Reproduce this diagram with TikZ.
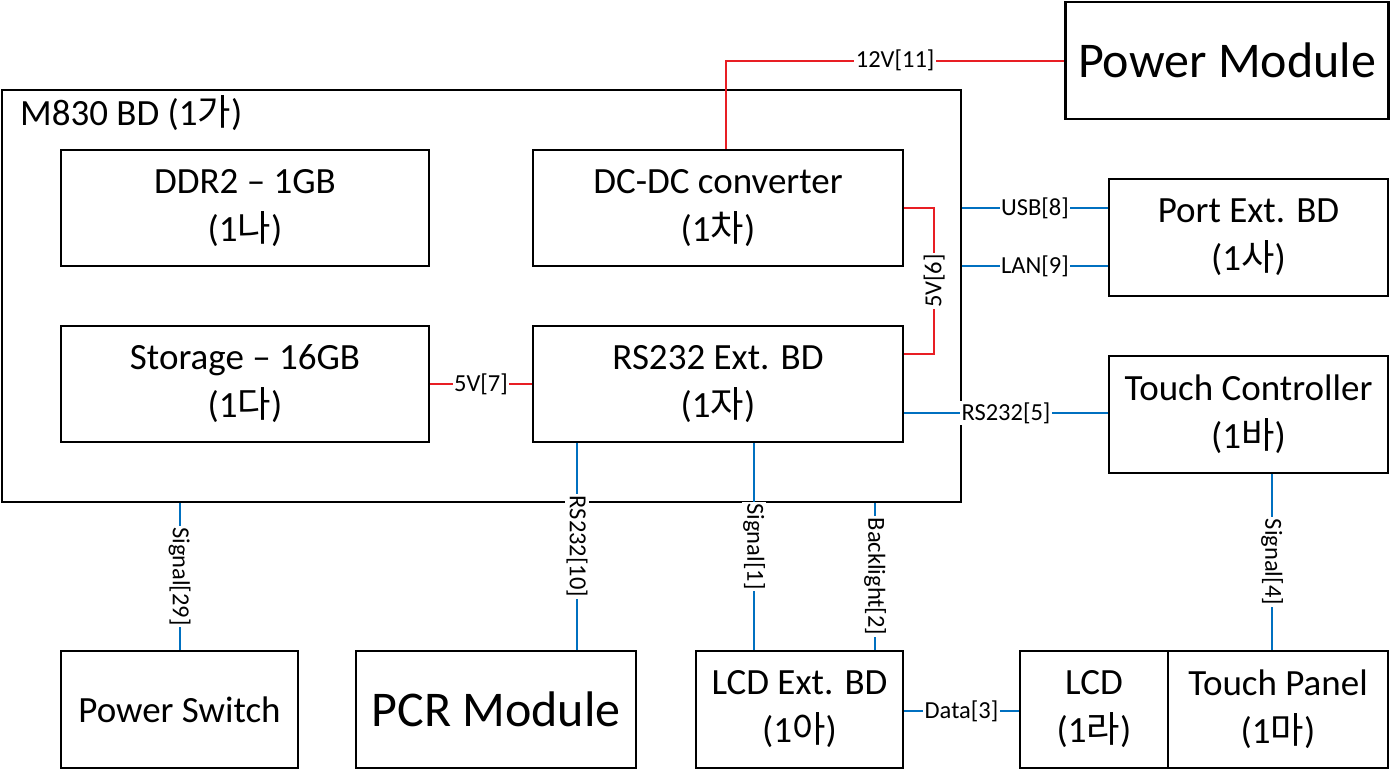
\documentclass[tikz,border=0pt]{standalone}
\usepackage{fontspec}
\setmainfont{Carlito}
\newfontfamily\hangulfont[Scale=0.98]{Noto Sans CJK KR}
\newcommand{\hg}[1]{{\hangulfont #1}}
\definecolor{pwrred}{RGB}{232,30,36}
\definecolor{sigblue}{RGB}{0,112,192}
\begin{document}
\begin{tikzpicture}[x=1pt,y=-1pt,
  box/.style={draw=black, line width=2.4pt, rectangle, inner sep=0pt, align=center,
    font=\fontsize{37}{48}\selectfont},
  pwrl/.style={draw=pwrred, line width=2pt},
  sigl/.style={draw=sigblue, line width=2pt},
  lbl/.style={fill=white, inner sep=1.5pt, font=\fontsize{24.5}{28}\selectfont},
  vlbl/.style={lbl, rotate=-90},
  vlblup/.style={lbl, rotate=90}]
\useasboundingbox (0,0) rectangle (1392,771);
% main board
\node[box, minimum width=959pt, minimum height=412pt] (m830) at (481.5,296) {};
\node[anchor=west, inner sep=0pt, font=\fontsize{37}{48}\selectfont] (m830t) at (20,113) {M830 BD (1\hg{가})};
% inner boxes
\node[box, minimum width=368pt, minimum height=116pt] (ddr) at (245,208) {DDR2 – 1GB\\(1\hg{나})};
\node[box, minimum width=370pt, minimum height=116pt] (dcdc) at (718,208) {DC-DC converter\\(1\hg{차})};
\node[box, minimum width=368pt, minimum height=116pt] (stor) at (245,384) {Storage – 16GB\\(1\hg{다})};
\node[box, minimum width=370pt, minimum height=116pt] (rs) at (718,384) {RS232 Ext. BD\\(1\hg{자})};
% outer boxes
\node[box, minimum width=323pt, minimum height=117pt, font=\fontsize{50}{58}\selectfont] (pm) at (1227,60.5) {Power Module};
\node[box, minimum width=279pt, minimum height=117pt] (port) at (1248.5,237.5) {Port Ext. BD\\(1\hg{사})};
\node[box, minimum width=279pt, minimum height=117pt] (tc) at (1248.5,414.5) {Touch Controller\\(1\hg{바})};
\node[box, minimum width=237pt, minimum height=117pt] (ps) at (179.5,709.5) {Power Switch};
\node[box, minimum width=280pt, minimum height=117pt, font=\fontsize{50}{58}\selectfont] (pcr) at (496,709.5) {PCR Module};
\node[box, minimum width=207pt, minimum height=117pt] (lcdext) at (799.5,709.5) {LCD Ext. BD\\(1\hg{아})};
\node[box, minimum width=148pt, minimum height=117pt] (lcd) at (1094,709.5) {LCD\\(1\hg{라})};
\node[box, minimum width=220pt, minimum height=117pt] (tp) at (1278,709.5) {Touch Panel\\(1\hg{마})};
% power connectors
\draw[pwrl] ([xshift=8pt]dcdc.north) |- node[lbl, pos=0.75] {12V[11]} (pm.west);
\draw[pwrl] (dcdc.east) -- ++(30,0) |- node[vlblup, pos=0.25] {5V[6]} (rs.east |- 0,354);
\draw[pwrl] (stor.east) -- node[lbl] {5V[7]} (rs.west);
% signal connectors
\draw[sigl] (m830.east |- 0,208) -- node[lbl] {USB[8]} (port.west |- 0,208);
\draw[sigl] (m830.east |- 0,266) -- node[lbl] {LAN[9]} (port.west |- 0,266);
\draw[sigl] (rs.east |- 0,413) -- node[lbl] {RS232[5]} (tc.west |- 0,413);
\draw[sigl] (ps.north |- m830.south) -- node[vlbl] {Signal[29]} (ps.north);
\draw[sigl] (rs.south -| 577,0) -- node[vlbl] {RS232[10]} (pcr.north -| 577,0);
\draw[sigl] (rs.south -| 754,0) -- node[vlbl] {Signal[1]} (lcdext.north -| 754,0);
\draw[sigl] (m830.south -| 875,0) -- node[vlbl] {Backlight[2]} (lcdext.north -| 875,0);
\draw[sigl] (tc.south -| 1272,0) -- node[vlbl] {Signal[4]} (tp.north -| 1272,0);
\draw[sigl] (lcdext.east |- 0,711) -- node[lbl] {Data[3]} (lcd.west |- 0,711);
\end{tikzpicture}
\end{document}
